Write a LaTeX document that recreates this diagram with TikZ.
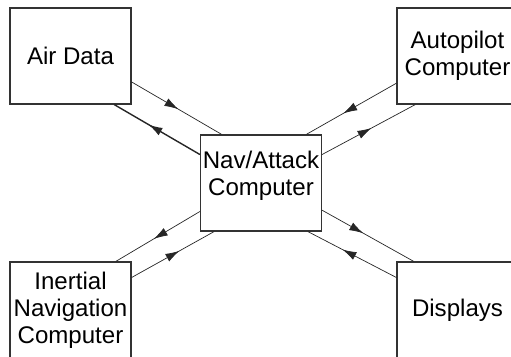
\documentclass[tikz,border=0pt]{standalone}
\usepackage{fontspec}
\setmainfont{Liberation Sans}
\usetikzlibrary{arrows.meta, decorations.markings}

\begin{document}
\begin{tikzpicture}[
    x=0.02cm, y=-0.02cm,
    font=\fontsize{13.7}{15.4}\selectfont,
    box/.style={draw=black!80, line width=0.7pt, inner sep=0pt,
        minimum width=2.42cm, minimum height=1.92cm, align=center},
    flow/.style={draw=black!85, line width=0.4pt, postaction={decorate},
        decoration={markings, mark=at position #1 with {\arrow{Latex[length=2.8mm, width=1.7mm]}}}},
    heavy/.style={line width=0.8pt}
]
\useasboundingbox (0,0) rectangle (511,356);
\clip (0,0) rectangle (511,356);

\node[box] (air) at (70.5,56) {Air Data};
\node[box] (nav) at (261,183) {};
\node[align=center] (navtext) at (261,176) {Nav/Attack\\Computer};
\node[box] (auto) at (457.5,56) {Autopilot\\Computer};
\node[box] (ins) at (70.5,310) {Inertial\\Navigation\\Computer};
\node[box] (disp) at (457.5,310) {Displays};

\foreach \s/\sa/\t/\ta/\p in {air/-23.3/nav/129.1/0.52, auto/204.4/nav/47.5/0.59,
    nav/25.4/auto/229.2/0.53, nav/205.4/ins/47.2/0.55, ins/28.6/nav/226.8/0.58,
    nav/-24.7/disp/132.8/0.45, disp/152.5/nav/-46.8/0.61}{\draw[flow=\p] (\s.\sa) -- (\t.\ta);}
\draw[flow=0.6, heavy] (nav.155.3) -- (air.-48.5);
\end{tikzpicture}
\end{document}
